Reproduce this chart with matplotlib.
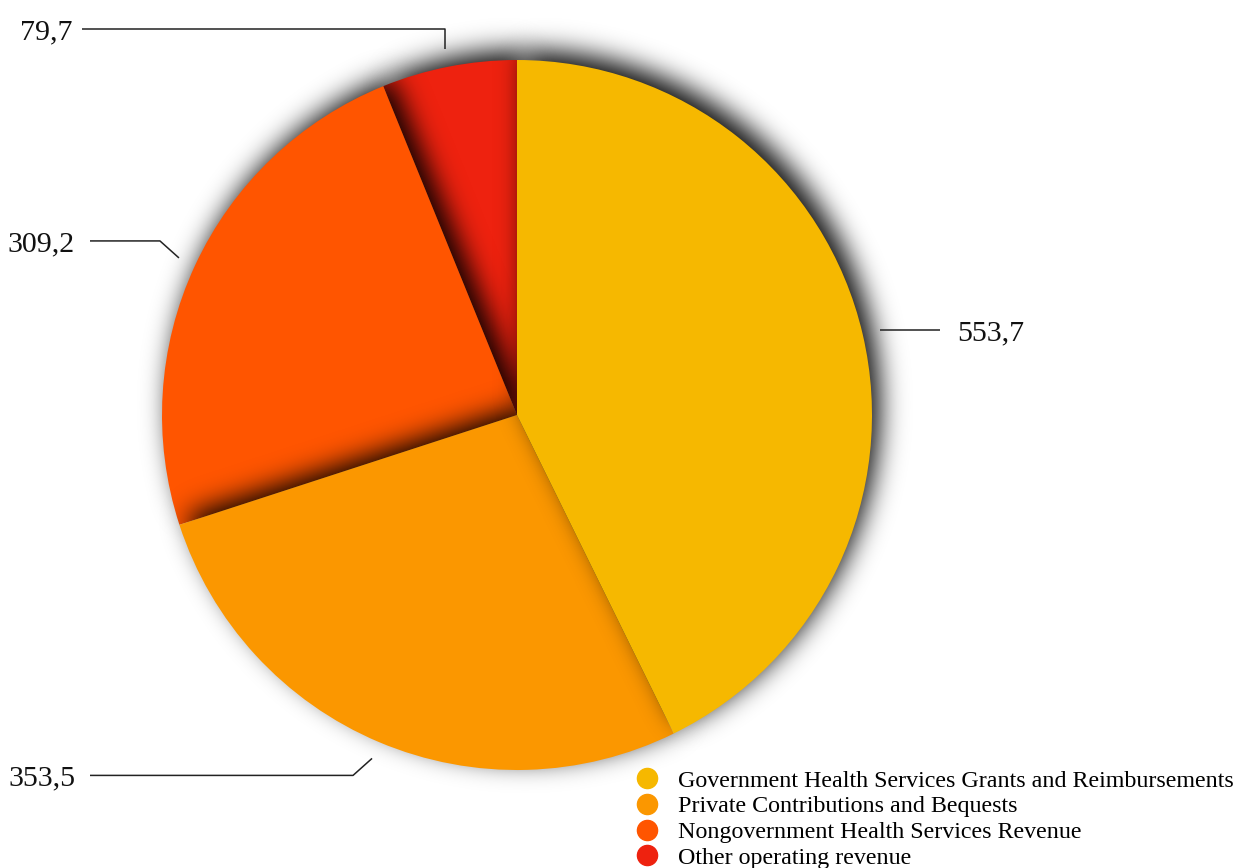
import numpy as np
import matplotlib
matplotlib.use('Agg')
import matplotlib.pyplot as plt
from matplotlib.lines import Line2D

# data
categories = ['Government Health Services Grants and Reimbursements',
              'Private Contributions and Bequests',
              'Nongovernment Health Services Revenue',
              'Other operating revenue']
values = [553.7, 353.5, 309.2, 79.7]
value_labels = ['553,7', '353,5', '309,2', '79,7']
colors = ['#F6B800', '#FB9700', '#FF5500', '#EE220F']

W, H = 1250, 868
plt.rcParams['font.family'] = ['Liberation Serif', 'DejaVu Serif']

fig = plt.figure(figsize=(W / 100, H / 100), dpi=100)
ax = fig.add_axes([0, 0, 1, 1])

cx, cy, R = 517, H - 415, 355
wedges, _ = ax.pie(values, colors=colors, startangle=90, counterclock=False,
                   center=(cx, cy), radius=R, wedgeprops=dict(linewidth=0))
ax.set_xlim(0, W)
ax.set_ylim(0, H)
ax.set_aspect('equal')
ax.axis('off')

# blurred drop shadow for each slice (offset up-right)
xs = np.arange(W) + 0.5
ys = np.arange(H) + 0.5
X, Y = np.meshgrid(xs, ys)
sdx, sdy, sigma = 8, 10, 13.0
kr = np.arange(-40, 41)
kern = np.exp(-kr ** 2 / (2 * sigma ** 2))
kern /= kern.sum()

def blur(a):
    a = np.apply_along_axis(lambda r: np.convolve(r, kern, mode='same'), 1, a)
    a = np.apply_along_axis(lambda c: np.convolve(c, kern, mode='same'), 0, a)
    return a

n = len(wedges)
for i, w in enumerate(wedges):
    z = 2 * (n - i) + 2
    w.set_zorder(z)
    px, py = X - sdx - w.center[0], Y - sdy - w.center[1]
    rr = np.hypot(px, py)
    ang = np.degrees(np.arctan2(py, px))
    inside = ((ang - w.theta1) % 360) <= (w.theta2 - w.theta1)
    mask = ((rr <= w.r) & inside).astype(float)
    sh = blur(mask)
    rgba = np.zeros((H, W, 4))
    rgba[..., 3] = np.clip(sh * 0.95, 0, 1)
    ax.imshow(rgba, extent=(0, W, 0, H), origin='lower', zorder=z - 1,
              interpolation='bilinear')

ax.set_xlim(0, W)
ax.set_ylim(0, H)

# leader lines and value labels
# (kink offset from anchor, x of line end, text x, text alignment)
leaders = [
    ((0, 0), 940, 957, 'left'),
    ((-19, -17), 90, 75, 'right'),
    ((-19, 17), 90, 75, 'right'),
    ((0, 20), 82, 72, 'right'),
]
for w, lab, (kink, xend, tx, ha) in zip(wedges, value_labels, leaders):
    mid = np.radians((w.theta1 + w.theta2) / 2)
    ax0 = cx + 1.05 * R * np.cos(mid)
    ay0 = cy + 1.05 * R * np.sin(mid)
    kx, ky = ax0 + kink[0], ay0 + kink[1]
    ax.plot([ax0, kx, xend], [ay0, ky, ky], color='#222222', lw=1.1,
            zorder=20, solid_capstyle='butt')
    ax.text(tx, ky - 10, lab, ha=ha, va='baseline', fontsize=21.5,
            color='#111111', zorder=20)

# legend
handles = [Line2D([], [], marker='o', linestyle='none', markersize=14.5,
                  markerfacecolor=c, markeredgecolor=c) for c in colors]
leg = ax.legend(handles, categories, loc='upper left',
                bbox_to_anchor=(635, H - 770), bbox_transform=ax.transData,
                frameon=False, fontsize=17.3, borderpad=0, borderaxespad=0,
                handlelength=1.0, handletextpad=0.79, labelspacing=0.16)
leg.set_zorder(30)

fig.savefig('out.png', dpi=100)
